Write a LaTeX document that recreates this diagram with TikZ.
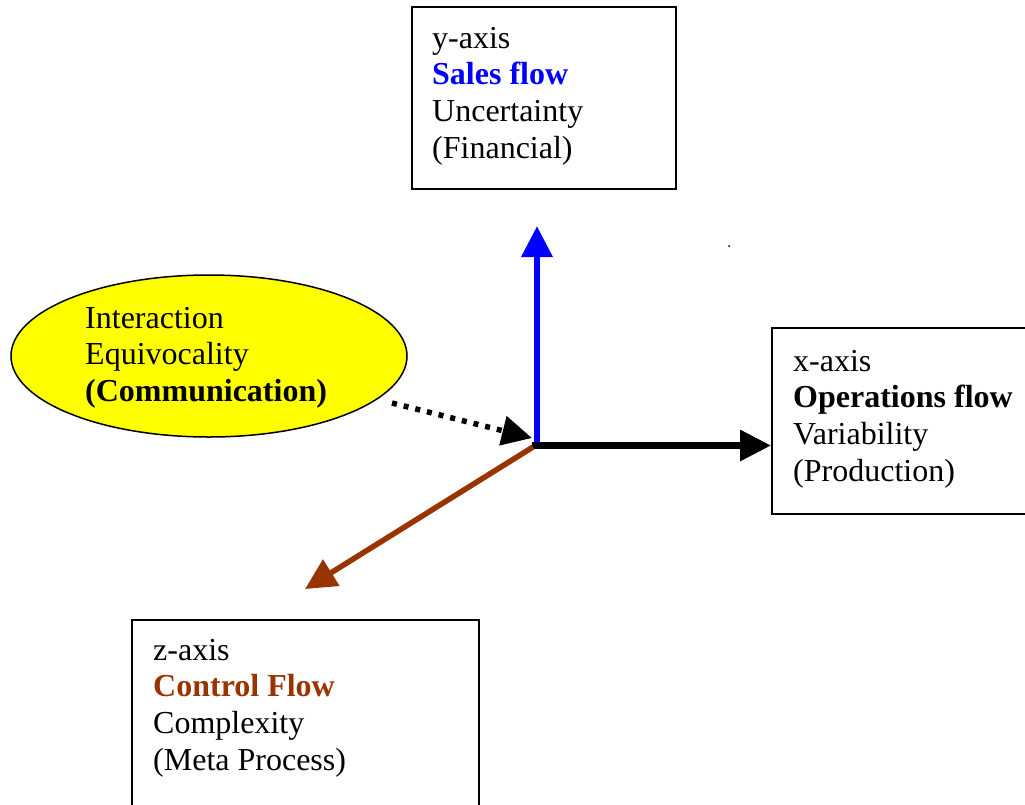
\documentclass[tikz,border=0pt]{standalone}
\usepackage{fontspec}
\setmainfont{Liberation Serif}
\usetikzlibrary{arrows.meta,shapes.geometric}
\definecolor{brownz}{RGB}{153,51,0}
\definecolor{bluey}{RGB}{0,0,255}
\definecolor{yell}{RGB}{255,255,0}
\begin{document}
\begin{tikzpicture}[x=1pt,y=-1pt,
  box/.style={draw, line width=1.5pt, anchor=north west, inner sep=0pt},
  txt/.style={anchor=north west, inner sep=0pt, align=left, font=\fontsize{32}{36.6}\selectfont},
  axis/.style={line width=6.5pt, -{Triangle[length=31pt,width=30pt]}}]
\useasboundingbox (0,0) rectangle (1025,804);
% boxes
\node[box, minimum width=264pt, minimum height=182pt] (ybox) at (411,6) {};
\node[box, minimum width=270pt, minimum height=186pt] (xbox) at (771,327) {};
\node[box, minimum width=347pt, minimum height=200pt] (zbox) at (131,619) {};
\node[draw, line width=1.5pt, fill=yell, ellipse, minimum width=396pt, minimum height=162pt, inner sep=0pt] (ell) at (209,356) {};
% texts
\node[txt] (ytxt) at (432,22.5) {\strut y-axis\\\textcolor{bluey}{\textbf{Sales flow}}\\Uncertainty\\(Financial)};
\node[txt] (xtxt) at (793,345.5) {\strut x-axis\\\textbf{Operations flow}\\Variability\\(Production)};
\node[txt] (ztxt) at (153,634.5) {\strut z-axis\\\textcolor{brownz}{\textbf{Control Flow}}\\Complexity\\(Meta Process)};
\node[txt] (etxt) at (85,302.5) {\strut Interaction\\Equivocality\\\textbf{(Communication)}};
% axes
\coordinate (oy) at (537,442);
\coordinate (ytip) at (537,226);
\coordinate (ox) at (532,445.5);
\coordinate (oz) at (533,447);
\coordinate (ztip) at (305,589);
\coordinate (ds) at (392,403);
\coordinate (dtip) at (532,438);
\draw[axis, bluey] (oy) -- (ytip);
\draw[axis, black] (ox) -- (ox -| xbox.west);
\draw[line width=5.5pt, brownz, -{Triangle[length=31pt,width=30pt]}] (oz) -- (ztip);
\draw[line width=5.5pt, dash pattern=on 5pt off 7pt, -{Triangle[length=30pt,width=29pt]}] (ds) -- (dtip);
\fill (729,246) circle (1pt);
\end{tikzpicture}
\end{document}
